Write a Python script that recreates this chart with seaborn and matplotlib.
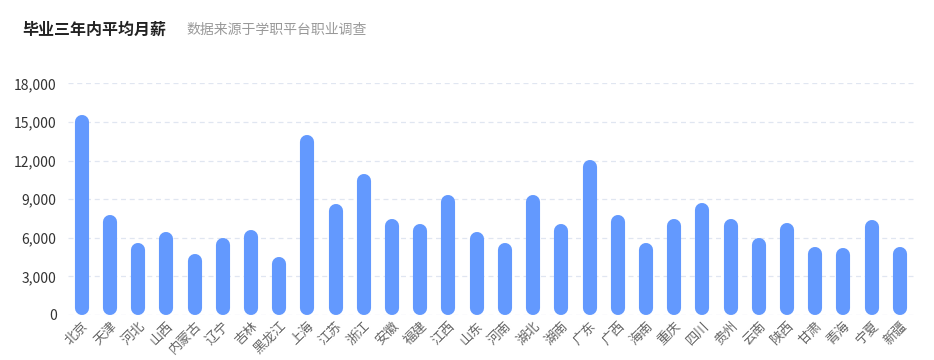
import matplotlib
matplotlib.use('Agg')
import matplotlib.pyplot as plt
import seaborn as sns
import pandas as pd
from matplotlib.ticker import FuncFormatter

provinces = ['北京', '天津', '河北', '山西', '内蒙古', '辽宁', '吉林', '黑龙江', '上海', '江苏',
             '浙江', '安徽', '福建', '江西', '山东', '河南', '湖北', '湖南', '广东', '广西',
             '海南', '重庆', '四川', '贵州', '云南', '陕西', '甘肃', '青海', '宁夏', '新疆']
salary = [15550, 7750, 5620, 6450, 4780, 5950, 6580, 4520, 13950, 8600,
          10920, 7480, 7100, 9330, 6470, 5620, 9320, 7100, 12060, 7750,
          5560, 7470, 8720, 7460, 5950, 7160, 5300, 5200, 7400, 5250]
y_ticks = [0, 3000, 6000, 9000, 12000, 15000, 18000]

df = pd.DataFrame({'province': provinces, 'salary': salary})

sns.set_theme(style='white')
plt.rcParams['font.family'] = ['Noto Sans CJK SC', 'DejaVu Sans']

fig = plt.figure(figsize=(9.34, 3.6), dpi=100)
ax = fig.add_axes([0.0724, 0.125, 0.9062, 0.6436])

bar_color = '#6399fe'
sns.barplot(data=df, x='province', y='salary', color=bar_color, width=0.5,
            saturation=1, ax=ax)

ax.set_ylim(0, 18000)
ax.set_xlim(-0.5, len(provinces) - 0.5)

# rounded bars: replace each rectangle by a thick line with round caps
fig.canvas.draw()
bbox = ax.get_window_extent()
px_w = bbox.width / len(provinces)
y_per_px = 18000 / bbox.height
for p in list(ax.patches):
    x0, w, h = p.get_x(), p.get_width(), p.get_height()
    p.remove()
    lw_px = w * px_w
    r = lw_px / 2 * y_per_px
    ax.plot([x0 + w / 2, x0 + w / 2], [r, max(h - r, r)], color=bar_color,
            linewidth=lw_px * 72 / fig.dpi, solid_capstyle='round', zorder=3)

ax.set_yticks(y_ticks)
ax.yaxis.set_major_formatter(FuncFormatter(lambda v, _: f'{int(v):,}'))
ax.grid(axis='y', color='#e0e6f1', linestyle=(0, (4, 3)), linewidth=0.9, zorder=0)
ax.set_axisbelow(True)
for s in ax.spines.values():
    s.set_visible(False)
ax.tick_params(axis='y', length=0, pad=8, labelsize=10, labelcolor='#333333')
ax.tick_params(axis='x', length=0, pad=3, labelsize=9.5, labelcolor='#666666')
plt.setp(ax.get_xticklabels(), rotation=45, ha='right', rotation_mode='anchor')
ax.set_xlabel('')
ax.set_ylabel('')

fig.text(22 / 934, 1 - 30 / 360, '毕业三年内平均月薪', fontsize=11.5, fontweight='bold',
         color='#222222', va='center')
fig.text(186 / 934, 1 - 30 / 360, '数据来源于学职平台职业调查', fontsize=10,
         color='#999999', va='center')

fig.savefig('out.png', dpi=100, facecolor='white')
